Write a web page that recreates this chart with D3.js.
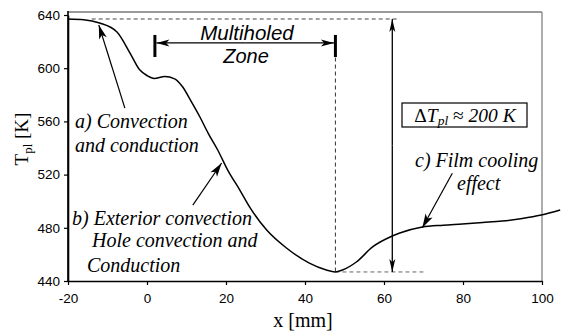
<!DOCTYPE html>
<html><head><meta charset="utf-8">
<script src="https://cdn.jsdelivr.net/npm/d3@7/dist/d3.min.js"></script>
<style>body{margin:0;background:#fff}svg{display:block}</style>
</head><body>
<svg id="c" width="561" height="334"></svg>
<script>
// ---- data ----
const xPos = [-20,-16,-12,-7.6,-4.3,-1.8,0,1.8,4.5,7,9,11,13.4,15.5,17.9,20.5,23.5,26,30.3,35.3,41.1,45.4,47.6,49.5,53,57.1,62.1,64,69.7,75,79.8,85,89.9,95,99.8,104.6];
const tempK = [637,636.5,634,627.2,611.4,598.6,594.5,592.3,593.8,592,586,576,563.3,551,538.5,523,508.4,495.6,478.3,464.8,453.5,448.3,446.8,448.3,454.3,465.6,473.8,476.1,480.6,482,482.9,484,485.1,487,489.6,493.4];
const xTicks = [-20,0,20,40,60,80,100];
const yTicks = [440,480,520,560,600,640];
const zoneStart = 2.0, zoneEnd = 47.7;
const tMax = 637, tMin = 446.8;
const deltaX = 62.1;

const svg = d3.select("#c");
const x = d3.scaleLinear().domain([-20,100]).range([68,542]);
const y = d3.scaleLinear().domain([440,640]).range([281,15]);
const yTop = y(642.3);

// frame (top & right gray)
svg.append("line").attr("x1",x(-20)).attr("x2",x(100)).attr("y1",yTop).attr("y2",yTop).attr("stroke","#9a9a9a").attr("stroke-width",2);
svg.append("line").attr("x1",x(100)).attr("x2",x(100)).attr("y1",yTop).attr("y2",y(440)).attr("stroke","#808080").attr("stroke-width",1.3);

// axes
const ax = svg.append("g").attr("transform",`translate(0,${y(440)})`)
  .call(d3.axisBottom(x).tickValues(xTicks).tickSize(4).tickSizeOuter(0).tickPadding(8).tickFormat(d=>String(d)));
const ay = svg.append("g").attr("transform",`translate(${x(-20)},0)`)
  .call(d3.axisLeft(y).tickValues(yTicks).tickSize(4).tickSizeOuter(0).tickPadding(4).tickFormat(d=>String(d)));
[ax,ay].forEach(g=>{
  g.select(".domain").attr("stroke","#000").attr("stroke-width",1.6);
  g.selectAll(".tick line").attr("stroke","#000").attr("stroke-width",1.2);
  g.selectAll(".tick text").attr("font-family","'Liberation Sans',Arial,sans-serif").attr("font-size",13.5).attr("fill","#000");
});
svg.append("line").attr("x1",x(-20)).attr("x2",x(-20)).attr("y1",yTop-1).attr("y2",y(440)).attr("stroke","#000").attr("stroke-width",1.6);

const serif="'Liberation Serif','Times New Roman',serif";
// axis titles
svg.append("text").attr("x",303).attr("y",327).attr("text-anchor","middle")
  .attr("font-family",serif).attr("font-size",20).text("x [mm]");
const yl = svg.append("text").attr("transform","translate(28,139) rotate(-90)").attr("text-anchor","middle")
  .attr("font-family",serif).attr("font-size",19);
yl.append("tspan").text("T");
yl.append("tspan").attr("font-size",13).attr("dy",4).text("pl");
yl.append("tspan").attr("dy",-4).text(" [K]");

// dashed guides
const dash = (x1,y1,x2,y2,col)=>svg.append("line").attr("x1",x1).attr("y1",y1).attr("x2",x2).attr("y2",y2)
  .attr("stroke",col).attr("stroke-width",1).attr("stroke-dasharray","4,3");
dash(x(-14),y(tMax),x(64),y(tMax),"#444");
dash(x(zoneEnd),y(608),x(zoneEnd),y(tMin),"#333");
dash(x(zoneEnd),y(tMin),x(70),y(tMin),"#666");

// curve
const pts = xPos.map((v,i)=>[v,tempK[i]]);
svg.append("path").datum(pts)
  .attr("d",d3.line().x(d=>x(d[0])).y(d=>y(d[1])).curve(d3.curveMonotoneX))
  .attr("fill","none").attr("stroke","#000").attr("stroke-width",1.5);

function arrow(x1,y1,x2,y2,len,wid,sw){
  svg.append("line").attr("x1",x1).attr("y1",y1).attr("x2",x2).attr("y2",y2).attr("stroke","#000").attr("stroke-width",sw);
  const a = Math.atan2(y2-y1,x2-x1);
  const bx = x2-len*Math.cos(a), by = y2-len*Math.sin(a);
  const nx = -Math.sin(a)*wid/2, ny = Math.cos(a)*wid/2;
  const ix = x2-len*0.75*Math.cos(a), iy = y2-len*0.75*Math.sin(a);
  svg.append("path").attr("d",`M${x2},${y2}L${bx+nx},${by+ny}L${ix},${iy}L${bx-nx},${by-ny}Z`).attr("fill","#000");
}

// multiholed zone
svg.append("line").attr("x1",x(zoneStart)).attr("x2",x(zoneStart)).attr("y1",y(625)).attr("y2",y(608.4)).attr("stroke","#000").attr("stroke-width",3);
svg.append("line").attr("x1",x(zoneEnd)).attr("x2",x(zoneEnd)).attr("y1",y(625)).attr("y2",y(608.4)).attr("stroke","#000").attr("stroke-width",3);
const midX=(x(zoneStart)+x(zoneEnd))/2;
arrow(midX,y(619),x(zoneStart)+1.5,y(619),13,7,1.2);
arrow(midX,y(619),x(zoneEnd)-1.5,y(619),13,7,1.2);
const sansI = "'Liberation Sans',Arial,sans-serif";
svg.append("text").attr("x",247).attr("y",40).attr("text-anchor","middle").attr("font-family",sansI).attr("font-style","italic").attr("font-size",20.5).text("Multiholed");
svg.append("text").attr("x",246).attr("y",63).attr("text-anchor","middle").attr("font-family",sansI).attr("font-style","italic").attr("font-size",20).text("Zone");

// delta T arrow + box
const dmid=(y(tMax)+y(tMin))/2;
arrow(x(deltaX),dmid,x(deltaX),y(tMax),13,6,1.3);
arrow(x(deltaX),dmid,x(deltaX),y(tMin),13,6,1.3);
svg.append("rect").attr("x",402).attr("y",103).attr("width",125).attr("height",24).attr("fill","#fff").attr("stroke","#000").attr("stroke-width",1.2);
const dt = svg.append("text").attr("x",465).attr("y",121.5).attr("text-anchor","middle").attr("font-family",serif).attr("font-size",19.5);
dt.append("tspan").text("Δ");
dt.append("tspan").attr("font-style","italic").text("T");
dt.append("tspan").attr("font-style","italic").attr("font-size",13.5).attr("dy",3).text("pl");
dt.append("tspan").attr("dy",-3).text(" ≈ ");
dt.append("tspan").attr("font-style","italic").text("200 K");

// annotation texts
const note=(tx,ty,s)=>svg.append("text").attr("x",tx).attr("y",ty).attr("font-family",serif).attr("font-style","italic").attr("font-size",20).text(s);
note(75,128,"a) Convection");
note(75,152,"and conduction");
note(72,225,"b) Exterior convection");
note(92,247,"Hole convection and");
note(87,272,"Conduction");
note(415,167,"c) Film cooling");
note(457,190,"effect");

// annotation arrows
arrow(x(-5.6),y(570),x(-12.2),y(632.5),14,8,1.2);
arrow(x(11.6),y(497),x(18.9),y(528.7),14,8,1.2);
arrow(x(77.3),y(521),x(69.7),y(480),14,8,1.2);
</script>
</body></html>
